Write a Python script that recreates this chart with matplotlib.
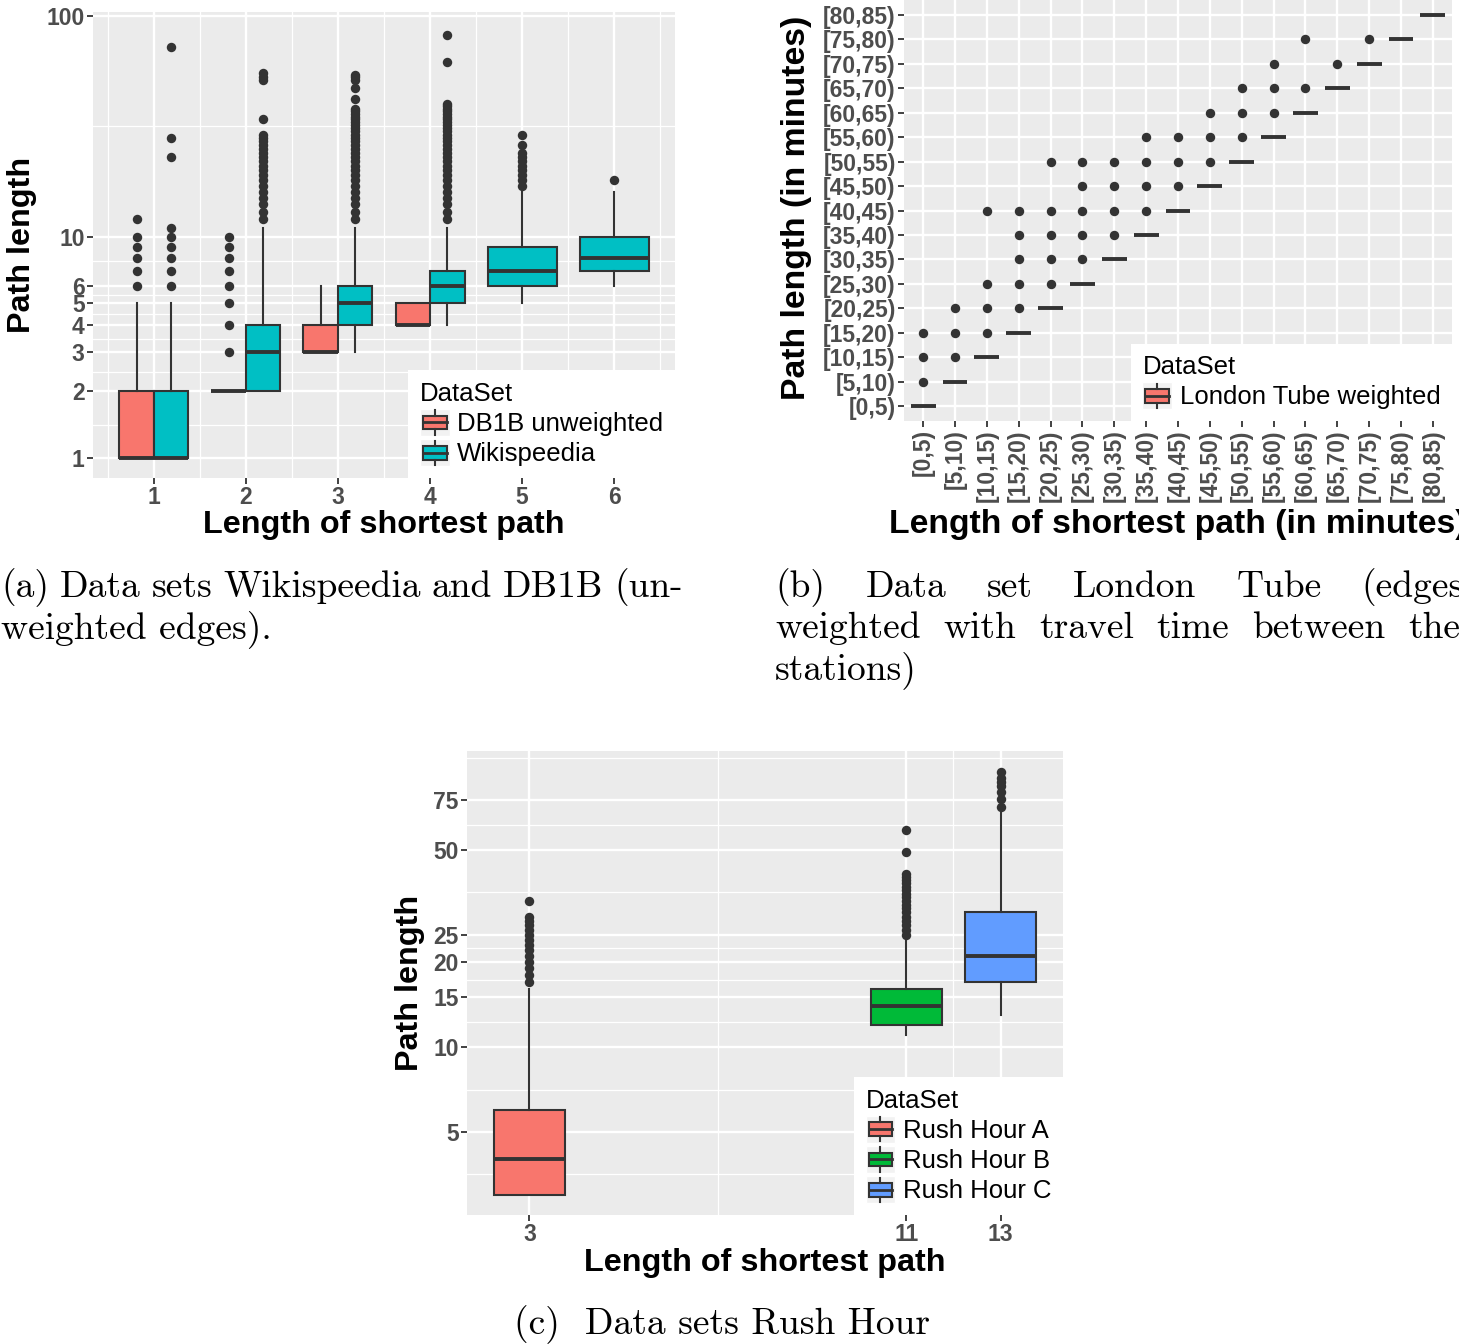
import numpy as np
import matplotlib
matplotlib.use("Agg")
import matplotlib.pyplot as plt
from matplotlib.patches import Rectangle, Patch
from matplotlib.lines import Line2D
from matplotlib.legend_handler import HandlerBase
from matplotlib.ticker import NullFormatter

plt.rcParams['font.family'] = ['Liberation Sans', 'DejaVu Sans']

# ---- data: panel (a) ----
a_breaks = [1, 2, 3, 4, 5, 6, 10, 100]
a_cats = [1, 2, 3, 4, 5, 6]

db1b_x = [1, 2, 3, 4]
db1b_q1 = [1, 2, 3, 4]
db1b_med = [1, 2, 3, 4]
db1b_q3 = [2, 2, 4, 5]
db1b_lo = [1, 2, 3, 4]
db1b_hi = [5, 2, 6, 5]
db1b_out = [[6, 7, 8, 9, 10, 12],
            [3, 4, 5, 6, 7, 8, 9, 10],
            [],
            []]

wiki_x = [1, 2, 3, 4, 5, 6]
wiki_q1 = [1, 2, 4, 5, 6, 7]
wiki_med = [1, 3, 5, 6, 7, 8]
wiki_q3 = [2, 4, 6, 7, 9, 10]
wiki_lo = [1, 2, 3, 4, 5, 6]
wiki_hi = [5, 11, 11, 11, 16, 16]
wiki_out = [[6, 7, 8, 9, 10, 11, 23, 28, 72],
            [12, 13, 14, 15, 16, 17, 18, 19, 20, 21, 22, 23, 24, 25, 26, 27, 28, 29,
             34, 51, 53, 55],
            [12, 13, 14, 15, 16, 17, 18, 19, 20, 21, 22, 23, 24, 25, 26, 27, 28, 29,
             30, 31, 32, 33, 34, 35, 36, 37, 38, 42, 47, 51, 53, 54],
            [12, 13, 14, 15, 16, 17, 18, 19, 20, 21, 22, 23, 24, 25, 26, 27, 28, 29,
             30, 31, 32, 33, 34, 35, 36, 37, 38, 39, 40, 62, 82],
            [17, 18, 19, 20, 21, 22, 23, 24, 26, 29],
            [18]]

# ---- data: panel (b) ----
tube_bins = ["[0,5)", "[5,10)", "[10,15)", "[15,20)", "[20,25)", "[25,30)",
             "[30,35)", "[35,40)", "[40,45)", "[45,50)", "[50,55)", "[55,60)",
             "[60,65)", "[65,70)", "[70,75)", "[75,80)", "[80,85)"]
tube_x = [0, 1, 2, 3, 4, 5, 6, 7, 8, 9, 10, 11, 12, 13, 14, 15, 16]
tube_med = [0, 1, 2, 3, 4, 5, 6, 7, 8, 9, 10, 11, 12, 13, 14, 15, 16]
tube_out = [[1, 2, 3], [2, 3, 4], [3, 4, 5, 8], [4, 5, 6, 7, 8], [5, 6, 7, 8, 10],
            [6, 7, 8, 9, 10], [7, 8, 9, 10], [8, 9, 10, 11], [9, 10, 11],
            [10, 11, 12], [11, 12, 13], [12, 13, 14], [13, 15], [14], [15], [], []]

# ---- data: panel (c) ----
c_breaks = [5, 10, 15, 20, 25, 50, 75]
rush_names = ["Rush Hour A", "Rush Hour B", "Rush Hour C"]
rush_x = [3, 11, 13]
rush_q1 = [3, 12, 17]
rush_med = [4, 14, 21]
rush_q3 = [6, 16, 30]
rush_lo = [3, 11, 13]
rush_hi = [16, 24, 68]
rush_out = [[17, 18, 19, 20, 21, 22, 23, 24, 25, 26, 27, 28, 29, 33],
            [25, 26, 27, 28, 29, 30, 31, 32, 33, 34, 35, 36, 37, 38, 39, 40, 41, 49, 59],
            [71, 76, 80, 84, 87, 90, 94]]

RED, CYAN, GREEN, BLUE = '#F8766D', '#00BFC4', '#00BA38', '#619CFF'
EDGE = '#333333'
TICK = '#4D4D4D'

W, H = 1459, 1344
fig = plt.figure(figsize=(W / 100, H / 100), dpi=100)


def rect(l, t, r, b):
    return [l / W, 1 - b / H, (r - l) / W, (b - t) / H]


def fx(x):
    return x / W


def fy(y):
    return 1 - y / H


def make_stats(q1, med, q3, lo, hi, out):
    return [dict(q1=a, med=m, q3=b, whislo=l, whishi=h, fliers=o)
            for a, m, b, l, h, o in zip(q1, med, q3, lo, hi, out)]


def draw_boxes(ax, st, positions, widths, color):
    ax.bxp(st, positions=positions, widths=widths, patch_artist=True,
           showcaps=False, manage_ticks=False, zorder=3,
           boxprops=dict(facecolor=color, edgecolor=EDGE, linewidth=1.5),
           medianprops=dict(color=EDGE, linewidth=2.8, solid_capstyle='butt'),
           whiskerprops=dict(color=EDGE, linewidth=1.5),
           flierprops=dict(marker='o', markerfacecolor=EDGE, markeredgecolor='none',
                           markersize=6.8))


def gg_minor(breaks):
    # minor breaks halfway between majors (in log space), like ggplot2
    b = list(np.log10(breaks))
    d = b[1] - b[0]
    b = [b[0] - d] + b + [b[-1] + d]
    return [10 ** ((b[i] + b[i + 1]) / 2) for i in range(len(b) - 1)]


def style(ax):
    ax.set_facecolor('#EBEBEB')
    for s in ax.spines.values():
        s.set_visible(False)
    ax.grid(True, which='major', color='white', linewidth=1.7)
    ax.grid(True, which='minor', color='white', linewidth=0.9)
    ax.set_axisbelow(True)
    ax.tick_params(which='major', length=4, width=1.3, color=EDGE,
                   labelcolor=TICK, labelsize=16.5, pad=2)
    ax.tick_params(which='minor', length=0)


class BoxKey(HandlerBase):
    def create_artists(self, legend, orig_handle, xdescent, ydescent,
                       width, height, fontsize, trans):
        x0, y0, w, h = -xdescent, -ydescent, width, height
        fc = orig_handle.get_facecolor()
        bg = Rectangle((x0, y0), w, h, facecolor='#F2F2F2', edgecolor='white', lw=1)
        box = Rectangle((x0 + 0.1 * w, y0 + 0.25 * h), 0.8 * w, 0.5 * h,
                        facecolor=fc, edgecolor=EDGE, lw=1.5)
        med = Line2D([x0 + 0.1 * w, x0 + 0.9 * w], [y0 + 0.5 * h] * 2, color=EDGE, lw=2)
        wt = Line2D([x0 + w / 2] * 2, [y0 + 0.75 * h, y0 + 0.95 * h], color=EDGE, lw=1.5)
        wb = Line2D([x0 + w / 2] * 2, [y0 + 0.05 * h, y0 + 0.25 * h], color=EDGE, lw=1.5)
        arts = [bg, box, med, wt, wb]
        for a in arts:
            a.set_transform(trans)
        return arts


def add_legend(ax, names, colors):
    handles = [Patch(facecolor=c, label=n) for n, c in zip(names, colors)]
    leg = ax.legend(handles=handles, handler_map={Patch: BoxKey()},
                    loc='lower right', bbox_to_anchor=(1, 0), borderaxespad=0,
                    frameon=True, fancybox=False, framealpha=1, edgecolor='none',
                    facecolor='white', title='DataSet', alignment='left',
                    fontsize=18.5, title_fontsize=18.5, handlelength=1.15,
                    handleheight=1.25, handletextpad=0.3, labelspacing=0.12,
                    borderpad=0.45)
    return leg


TITLE = dict(fontsize=23.3, fontweight='bold', color='black')
TITLE_B = dict(fontsize=24.3, fontweight='bold', color='black')

# ---- panel (a) ----
ax1 = fig.add_axes(rect(93, 12, 675, 478))
style(ax1)
ax1.set_yscale('log')
both = set(db1b_x) & set(wiki_x)
db1b_pos = [x - 0.1875 if x in both else x for x in db1b_x]
db1b_w = [0.375 if x in both else 0.75 for x in db1b_x]
wiki_pos = [x + 0.1875 if x in both else x for x in wiki_x]
wiki_w = [0.375 if x in both else 0.75 for x in wiki_x]
draw_boxes(ax1, make_stats(db1b_q1, db1b_med, db1b_q3, db1b_lo, db1b_hi, db1b_out),
           db1b_pos, db1b_w, RED)
draw_boxes(ax1, make_stats(wiki_q1, wiki_med, wiki_q3, wiki_lo, wiki_hi, wiki_out),
           wiki_pos, wiki_w, CYAN)
ax1.set_xticks(a_cats, [str(c) for c in a_cats], fontweight='bold')
ax1.set_xticks([c + 0.5 for c in [0] + a_cats], minor=True)
ax1.set_yticks(a_breaks, [str(b) for b in a_breaks], fontweight='bold')
ax1.set_yticks(gg_minor(a_breaks), minor=True)
ax1.yaxis.set_minor_formatter(NullFormatter())
ax1.set_xlim(0.34, 6.66)
ax1.set_ylim(0.81, 104)
add_legend(ax1, ["DB1B unweighted", "Wikispeedia"], [RED, CYAN])
fig.text(fx(22), fy(245), "Path length", rotation=90, ha='center', va='center', **TITLE)
fig.text(fx(384), fy(525), "Length of shortest path", ha='center', va='center', **TITLE)

# ---- panel (b) ----
ax2 = fig.add_axes(rect(904, 0, 1452, 421))
style(ax2)
tube_stats = make_stats(tube_med, tube_med, tube_med, tube_med, tube_med, tube_out)
draw_boxes(ax2, tube_stats, tube_x, [0.78] * len(tube_x), RED)
ax2.set_xticks(range(len(tube_bins)), tube_bins, rotation=90, fontweight='bold')
ax2.set_yticks(range(len(tube_bins)), tube_bins, fontweight='bold')
ax2.set_xlim(-0.6, 16.6)
ax2.set_ylim(-0.6, 16.6)
add_legend(ax2, ["London Tube weighted"], [RED])
fig.text(fx(797), fy(208), "Path length (in minutes)", rotation=90, ha='center',
         va='center', **TITLE_B)
fig.text(fx(1178), fy(525), "Length of shortest path (in minutes)", ha='center',
         va='center', **TITLE_B)

# ---- panel (c) ----
ax3 = fig.add_axes(rect(467, 751, 1063, 1215))
style(ax3)
ax3.set_yscale('log')
draw_boxes(ax3, make_stats(rush_q1, rush_med, rush_q3, rush_lo, rush_hi, rush_out),
           rush_x, [1.5] * len(rush_x), RED)
for patch, col in zip(ax3.patches, [RED, GREEN, BLUE]):
    patch.set_facecolor(col)
ax3.set_xticks(rush_x, [str(x) for x in rush_x], fontweight='bold')
ax3.set_xticks([7, 12], minor=True)
ax3.set_yticks(c_breaks, [str(b) for b in c_breaks], fontweight='bold')
ax3.set_yticks(gg_minor(c_breaks), minor=True)
ax3.yaxis.set_minor_formatter(NullFormatter())
ax3.set_xlim(1.675, 14.325)
ax3.set_ylim(2.54, 112)
add_legend(ax3, rush_names, [RED, GREEN, BLUE])
fig.text(fx(410), fy(983), "Path length", rotation=90, ha='center', va='center', **TITLE)
fig.text(fx(765), fy(1263), "Length of shortest path", ha='center', va='center', **TITLE)

# ---- captions (Computer Modern, justified) ----
CAP = dict(fontsize=27, family=['cmr10', 'DejaVu Serif'], va='baseline')
renderer = fig.canvas.get_renderer()


def justify(words, y, x0, x1):
    texts = [fig.text(0, fy(y), w, **CAP) for w in words]
    widths = [t.get_window_extent(renderer).width for t in texts]
    gap = (x1 - x0 - sum(widths)) / (len(words) - 1)
    x = x0
    for t, w in zip(texts, widths):
        t.set_x(fx(x))
        x += w + gap


justify(["(a)", "Data", "sets", "Wikispeedia", "and", "DB1B", "(un-"], 597, 1, 683)
fig.text(fx(1), fy(638), "weighted edges).", **CAP)
justify(["(b)", "Data", "set", "London", "Tube", "(edges"], 597, 775, 1464)
justify(["weighted", "with", "travel", "time", "between", "the"], 638, 775, 1460)
fig.text(fx(775), fy(679), "stations)", **CAP)
fig.text(fx(722), fy(1334), "(c)  Data sets Rush Hour", ha='center', **CAP)

fig.savefig("out.png", dpi=100)
